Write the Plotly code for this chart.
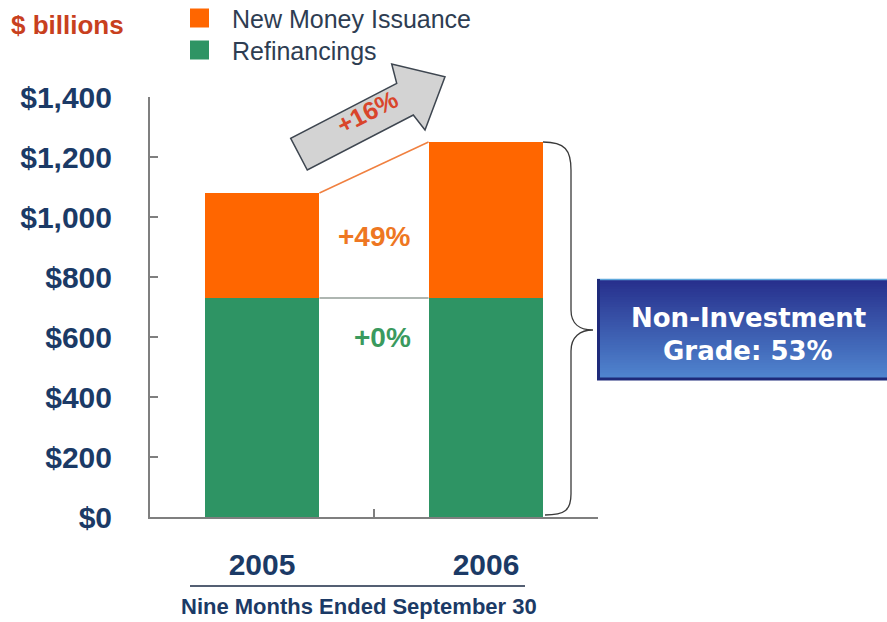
import plotly.graph_objects as go

# ---------------- data ----------------
years = ["2005", "2006"]
refinancings = [730, 730]
new_money = [350, 520]
totals = [r + n for r, n in zip(refinancings, new_money)]
y_tick_vals = [0, 200, 400, 600, 800, 1000, 1200, 1400]
y_tick_text = ["$0", "$200", "$400", "$600", "$800", "$1,000", "$1,200", "$1,400"]
series_names = ["New Money Issuance", "Refinancings"]
change_total = "+16%"
change_new = "+49%"
change_refi = "+0%"
box_lines = ["Non-Investment", "Grade: 53%"]
unit_label = "$ billions"
period_label = "Nine Months Ended September 30"

# ---------------- style ----------------
W, H = 887, 622
L, R, T, B = 150, 598, 97, 517
ORANGE = "#FF6600"
GREEN = "#2E9464"
NAVY = "#1B3A66"
AXIS = "#7F7F7F"
FONT = "Liberation Sans, Arial, sans-serif"
BAR_W = 0.513


def px(x):
    return (x - L) / (R - L)


def py(y):
    return (B - y) / (B - T)


def path(cmds):
    out = []
    for c in cmds:
        if isinstance(c, str):
            out.append(c)
        else:
            out.append(f"{px(c[0]):.5f},{py(c[1]):.5f}")
    return " ".join(out)


def note(x, y, text, size, color, family=FONT, angle=0, xanchor="center"):
    return dict(xref="paper", yref="paper", x=x, y=y, text=text, showarrow=False,
                xanchor=xanchor, yanchor="middle", textangle=angle,
                font=dict(family=family, size=size, color=color))


fig = go.Figure()
fig.add_trace(go.Bar(x=years, y=refinancings, name=series_names[1],
                     marker=dict(color=GREEN, line=dict(width=0)),
                     width=BAR_W, showlegend=False, hoverinfo="y"))
fig.add_trace(go.Bar(x=years, y=new_money, name=series_names[0],
                     marker=dict(color=ORANGE, line=dict(width=0)),
                     width=BAR_W, showlegend=False, hoverinfo="y"))

shapes = []
annotations = []

# connector lines between bars (data coordinates)
shapes.append(dict(type="line", xref="x", yref="y",
                   x0=BAR_W / 2, x1=1 - BAR_W / 2, y0=totals[0], y1=totals[1],
                   line=dict(color="#F08040", width=1.5), layer="below"))
shapes.append(dict(type="line", xref="x", yref="y",
                   x0=BAR_W / 2, x1=1 - BAR_W / 2, y0=refinancings[0], y1=refinancings[1],
                   line=dict(color="#5E6E64", width=1.2), layer="below"))

annotations.append(dict(xref="x", yref="y", x=0.5, y=(refinancings[1] + totals[1]) / 2 - 55,
                        text=f"<b>{change_new}</b>", showarrow=False,
                        xanchor="center", yanchor="middle",
                        font=dict(family=FONT, size=28, color="#EE7722")))
annotations.append(dict(xref="x", yref="y", x=0.54, y=refinancings[1] / 2 + 232,
                        text=f"<b>{change_refi}</b>", showarrow=False,
                        xanchor="center", yanchor="middle",
                        font=dict(family=FONT, size=28, color="#3A9A5E")))

# growth arrow
arrow_pts = [(290.7, 138.3), (307.3, 170), (413.3, 115), (425, 130),
             (445, 76.7), (391.7, 64), (396.7, 83.3)]
cmds = []
for k, p in enumerate(arrow_pts):
    cmds.append(("M" if k == 0 else "L") + f"{px(p[0]):.5f},{py(p[1]):.5f}")
cmds.append("Z")
shapes.append(dict(type="path", xref="paper", yref="paper", path=" ".join(cmds),
                   fillcolor="#D3D3D3", line=dict(color="#3E4650", width=1.5)))
annotations.append(note(px(367), py(112), f"<b>{change_total}</b>", 25, "#D9452B", angle=-27))

# brace
brace = ["M", (543, 142), "C", (565, 142), (571, 150), (571, 170),
         "L", (571, 310), "C", (571, 324), (580, 330), (593, 330),
         "C", (580, 330), (571, 337), (571, 351),
         "L", (571, 494), "C", (571, 510), (565, 515), (545, 515)]
shapes.append(dict(type="path", xref="paper", yref="paper", path=path(brace),
                   line=dict(color="#3A3A3A", width=1.3)))

# gradient box
bx0, bx1, by0, by1 = 597, 887, 279, 380
n = 40
c_top = (0x27, 0x2F, 0x8C)
c_bot = (0x50, 0x86, 0xD0)
for k in range(n):
    t = k / (n - 1)
    col = tuple(int(round(c_top[j] + (c_bot[j] - c_top[j]) * t)) for j in range(3))
    ya = by0 + (by1 - by0) * k / n
    yb = min(by1, by0 + (by1 - by0) * (k + 1) / n + 1.5)
    shapes.append(dict(type="rect", xref="paper", yref="paper",
                       x0=px(bx0), x1=px(bx1), y0=py(yb), y1=py(ya),
                       fillcolor="rgb(%d,%d,%d)" % col, line=dict(width=0)))
shapes.append(dict(type="line", xref="paper", yref="paper", x0=px(bx0), x1=px(bx1),
                   y0=py(by0 + 0.5), y1=py(by0 + 0.5), line=dict(color="#5FA8DC", width=1.5)))
shapes.append(dict(type="line", xref="paper", yref="paper", x0=px(bx0), x1=px(bx1),
                   y0=py(by1 - 1), y1=py(by1 - 1), line=dict(color="#1E2A7A", width=3)))
shapes.append(dict(type="line", xref="paper", yref="paper", x0=px(bx0 + 1.5), x1=px(bx0 + 1.5),
                   y0=py(by0), y1=py(by1), line=dict(color="#1E2A7A", width=3)))
BOXFONT = "DejaVu Sans, Verdana, sans-serif"
annotations.append(note(px(748), py(318), f"<b>{box_lines[0]}</b>", 26, "white", BOXFONT))
annotations.append(note(px(748), py(351), f"<b>{box_lines[1]}</b>", 26, "white", BOXFONT))

# legend (custom)
for name, col, yc in [(series_names[0], ORANGE, 18), (series_names[1], GREEN, 50)]:
    shapes.append(dict(type="rect", xref="paper", yref="paper",
                       x0=px(190), x1=px(209), y0=py(yc + 9.5), y1=py(yc - 9.5),
                       fillcolor=col, line=dict(width=0)))
    annotations.append(note(px(230), py(yc + 1), name, 25, "#2E3D52", xanchor="left"))

# unit label
annotations.append(note(px(9), py(25), f"<b>{unit_label}</b>", 26, "#C8401E", xanchor="left"))

# period underline & label
shapes.append(dict(type="line", xref="paper", yref="paper", x0=px(190), x1=px(525),
                   y0=py(586), y1=py(586), line=dict(color="#1B2A44", width=1.5)))
annotations.append(note(px(359), py(606), f"<b>{period_label}</b>", 22, NAVY))

fig.update_layout(
    width=W, height=H,
    margin=dict(l=L, r=W - R, t=T, b=H - B),
    barmode="stack",
    bargap=0,
    plot_bgcolor="white", paper_bgcolor="white",
    showlegend=False,
    shapes=shapes,
    annotations=annotations,
    xaxis=dict(type="category", range=[-0.5, 1.5], showline=True, linecolor=AXIS, linewidth=2,
               ticks="inside", tickson="boundaries", ticklen=8, tickcolor=AXIS, tickwidth=1.5,
               showgrid=False, zeroline=False, fixedrange=True,
               tickvals=years, ticktext=[f"<b>{y}</b>" for y in years],
               tickfont=dict(family=FONT, size=30, color=NAVY),
               ticklabelstandoff=20),
    yaxis=dict(range=[0, 1400], showline=True, linecolor=AXIS, linewidth=2,
               ticks="inside", ticklen=8, tickcolor=AXIS, tickwidth=1.5,
               tickvals=y_tick_vals, ticktext=[f"<b>{t}</b>" for t in y_tick_text],
               showgrid=False, zeroline=False, fixedrange=True,
               tickfont=dict(family=FONT, size=30, color=NAVY),
               ticklabelstandoff=30),
)

fig.write_html("out.html")
